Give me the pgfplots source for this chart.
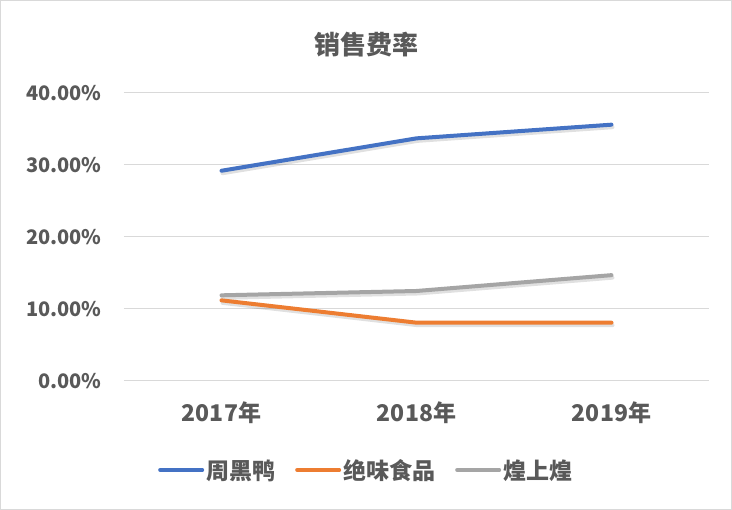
\documentclass[border=0pt]{standalone}
\usepackage{pgfplots}
\pgfplotsset{compat=1.18}
\usepackage{fontspec}
\setmainfont{Noto Sans CJK SC}
\definecolor{cblue}{HTML}{4472C4}
\definecolor{corange}{HTML}{ED7D31}
\definecolor{cgray}{HTML}{A5A5A5}
\definecolor{txt}{HTML}{595959}
\definecolor{gridc}{HTML}{D9D9D9}
\begin{document}
\begin{tikzpicture}
\draw[color=gridc, line width=1pt, fill=white] (0.5pt,0.5pt) rectangle (731.5pt,509.5pt);
\node[font=\fontsize{26}{30}\selectfont\bfseries, text=txt] at (366pt,465pt) {销售费率};
\begin{axis}[
  at={(124pt,129pt)}, anchor=south west,
  scale only axis, width=585pt, height=288pt,
  xmin=-0.5, xmax=2.5, ymin=0, ymax=40,
  axis line style={draw=none},
  tick style={draw=none},
  ymajorgrids, grid style={gridc, line width=1pt},
  xtick={0,1,2}, xticklabels={2017年,2018年,2019年},
  ytick={0,10,20,30,40},
  yticklabels={0.00\%,10.00\%,20.00\%,30.00\%,40.00\%},
  ticklabel style={text=txt},
  yticklabel style={font=\fontsize{20}{24}\selectfont\bfseries, anchor=east, xshift=-19pt},
  xticklabel style={font=\fontsize{23}{26}\selectfont\bfseries, anchor=center, yshift=-32pt},
  legend style={at={(0.414,-0.309)}, anchor=center, draw=none, fill=none,
    font=\fontsize{23}{26}\selectfont\bfseries, text=txt,
    /tikz/every even column/.append style={column sep=18pt}},
  legend columns=3,
  legend image code/.code={\draw[#1, line width=4pt, line cap=round] (0pt,0pt) -- (42pt,0pt);},
  every axis plot/.append style={line width=4pt, line cap=round, line join=round, no markers},
]
\addplot[black, opacity=0.12, shift={(1pt,-2.5pt)}, forget plot] coordinates {(0,29.2) (1,33.7) (2,35.6)};
\addplot[black, opacity=0.12, shift={(1pt,-2.5pt)}, forget plot] coordinates {(0,11.2) (1,8.1) (2,8.1)};
\addplot[black, opacity=0.12, shift={(1pt,-2.5pt)}, forget plot] coordinates {(0,11.9) (1,12.5) (2,14.7)};
\addplot[cblue] coordinates {(0,29.2) (1,33.7) (2,35.6)};
\addlegendentry{周黑鸭}
\addplot[corange] coordinates {(0,11.2) (1,8.1) (2,8.1)};
\addlegendentry{绝味食品}
\addplot[cgray] coordinates {(0,11.9) (1,12.5) (2,14.7)};
\addlegendentry{煌上煌}
\end{axis}
\end{tikzpicture}
\end{document}
